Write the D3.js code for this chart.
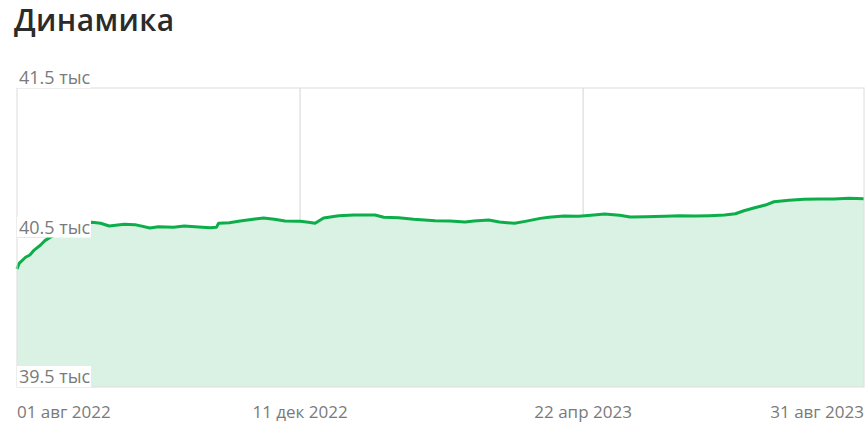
<!DOCTYPE html>
<html>
<head>
<meta charset="utf-8">
<script src="https://cdn.jsdelivr.net/npm/d3@7"></script>
<style>
  body { margin: 0; background: #fff; font-family: "Open Sans", sans-serif; }
</style>
</head>
<body>
<svg id="chart" width="868" height="429"></svg>
<script>
// точки ряда (дата, значение)
const dates = [
  "2022-08-01","2022-08-02","2022-08-05","2022-08-07","2022-08-09","2022-08-12","2022-08-14",
  "2022-08-19","2022-08-23","2022-08-28","2022-09-01","2022-09-05","2022-09-09","2022-09-13",
  "2022-09-20","2022-09-25","2022-10-02","2022-10-06","2022-10-13","2022-10-18","2022-10-23",
  "2022-10-30","2022-11-02","2022-11-03","2022-11-08","2022-11-13","2022-11-20","2022-11-24",
  "2022-11-29","2022-12-04","2022-12-11","2022-12-15","2022-12-18","2022-12-22","2022-12-29",
  "2023-01-05","2023-01-15","2023-01-19","2023-01-26","2023-02-02","2023-02-12","2023-02-19",
  "2023-02-26","2023-03-02","2023-03-09","2023-03-14","2023-03-21","2023-03-26","2023-04-02",
  "2023-04-06","2023-04-13","2023-04-20","2023-04-27","2023-05-02","2023-05-09","2023-05-14",
  "2023-05-21","2023-05-30","2023-06-06","2023-06-13","2023-06-20","2023-06-27","2023-07-02",
  "2023-07-06","2023-07-11","2023-07-16","2023-07-20","2023-07-27","2023-08-03","2023-08-10",
  "2023-08-17","2023-08-24","2023-08-31"
];
const values = [
  40289,40327,40368,40383,40416,40450,40479,
  40523,40557,40584,40597,40602,40595,40577,
  40588,40586,40564,40572,40568,40577,40572,
  40566,40568,40595,40599,40610,40624,40630,
  40622,40610,40608,40602,40595,40630,40646,
  40650,40650,40635,40632,40622,40612,40610,
  40604,40610,40617,40604,40595,40608,40628,
  40635,40644,40642,40650,40657,40649,40637,
  40639,40642,40646,40644,40646,40650,40659,
  40679,40699,40717,40739,40749,40756,40758,
  40758,40762,40759
];
const yTicks = [39500, 40500, 41500];
const xTicks = ["2022-08-01", "2022-12-11", "2023-04-22", "2023-08-31"];
const monthsRu = ["янв","фев","мар","апр","май","июн","июл","авг","сен","окт","ноя","дек"];

const parse = d3.timeParse("%Y-%m-%d");
const data = dates.map((d, i) => ({ date: parse(d), value: values[i] }));

const svg = d3.select("#chart");
const margin = { top: 88, right: 4, bottom: 42, left: 17 };
const width = 868 - margin.left - margin.right;
const height = 429 - margin.top - margin.bottom;

const x = d3.scaleTime()
  .domain([parse(xTicks[0]), parse(xTicks[xTicks.length - 1])])
  .range([0, width]);
const y = d3.scaleLinear()
  .domain([39500, 41500])
  .range([height, 0]);

svg.append("text")
  .attr("x", 14).attr("y", 31)
  .attr("font-size", 30).attr("font-weight", 600)
  .attr("letter-spacing", 0.4)
  .attr("fill", "#2b2b2b")
  .text("Динамика");

const g = svg.append("g").attr("transform", `translate(${margin.left},${margin.top})`);

// сетка
g.selectAll(".vgrid")
  .data(xTicks.slice(1, -1))
  .enter().append("line")
  .attr("x1", d => x(parse(d))).attr("x2", d => x(parse(d)))
  .attr("y1", 0).attr("y2", height)
  .attr("stroke", "#d4d4d4").attr("stroke-width", 1);

g.selectAll(".hgrid")
  .data(yTicks.slice(1, -1))
  .enter().append("line")
  .attr("x1", 0).attr("x2", width)
  .attr("y1", d => y(d)).attr("y2", d => y(d))
  .attr("stroke", "#cfcfcf").attr("stroke-width", 1);

const area = d3.area()
  .x(d => x(d.date))
  .y0(height)
  .y1(d => y(d.value));

const line = d3.line()
  .x(d => x(d.date))
  .y(d => y(d.value));

g.append("path")
  .datum(data)
  .attr("d", area)
  .attr("fill", "#daf2e3");

g.append("path")
  .datum(data)
  .attr("d", line)
  .attr("fill", "none")
  .attr("stroke", "#0cae4a")
  .attr("stroke-width", 3)
  .attr("stroke-linejoin", "round");

// рамка
g.append("rect")
  .attr("x", 0).attr("y", 0)
  .attr("width", width).attr("height", height)
  .attr("fill", "none")
  .attr("stroke", "#dcdcdc").attr("stroke-width", 1);

// подписи оси Y на белом фоне
const fmtY = v => (v / 1000).toFixed(1) + " тыс";
const yLab = g.selectAll(".ylab")
  .data(yTicks)
  .enter().append("g")
  .attr("transform", d => `translate(0,${y(d)})`);

yLab.append("rect")
  .attr("x", 0).attr("y", -21)
  .attr("width", 74).attr("height", 21)
  .attr("fill", "#fff");

yLab.append("text")
  .attr("x", 2).attr("y", -4)
  .attr("font-size", 18)
  .attr("fill", "#7a7a7a")
  .text(fmtY);

// подписи оси X
const fmtX = s => {
  const d = parse(s);
  return d3.timeFormat("%d")(d) + " " + monthsRu[d.getMonth()] + " " + d.getFullYear();
};
g.selectAll(".xlab")
  .data(xTicks)
  .enter().append("text")
  .attr("x", d => x(parse(d)))
  .attr("y", height + 31)
  .attr("font-size", 17)
  .attr("fill", "#7a7a7a")
  .attr("text-anchor", (d, i) => i === 0 ? "start" : i === xTicks.length - 1 ? "end" : "middle")
  .text(fmtX);
</script>
</body>
</html>
